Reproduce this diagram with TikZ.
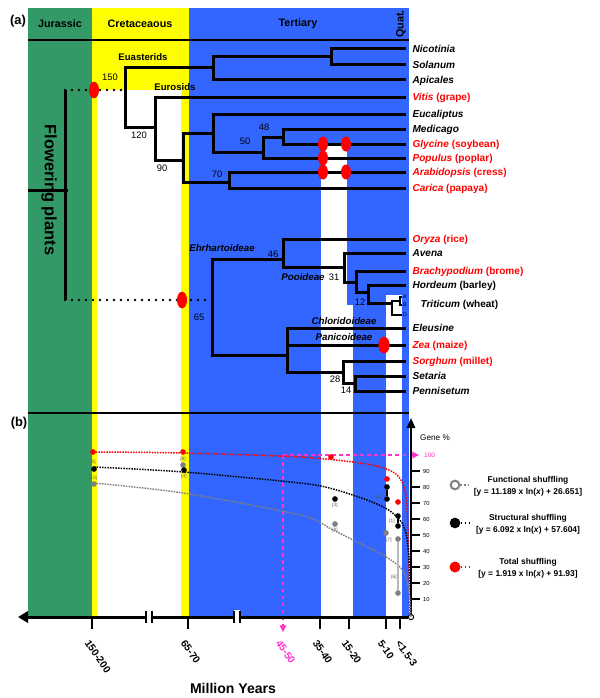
\documentclass[tikz,border=0pt]{standalone}
\usepackage{fontspec}
\setmainfont{Liberation Sans}
\usetikzlibrary{arrows.meta}

\definecolor{jurgreen}{RGB}{51,153,102}
\definecolor{cretyellow}{RGB}{255,255,0}
\definecolor{tertblue}{RGB}{51,102,255}
\definecolor{dupred}{RGB}{255,0,0}
\definecolor{dashpink}{RGB}{255,51,204}

\tikzset{
  branch/.style={line width=0.9mm},
  rootdots/.style={line width=0.85mm,line cap=round,dash pattern=on 0pt off 2.1mm},
  taxon/.style={anchor=west,inner xsep=1.9mm,inner ysep=0pt,text height=0.72em,text depth=0.2em,font=\fontsize{8.6}{10}\selectfont\bfseries},
  redtaxon/.style={taxon,text=dupred},
  subg/.style={anchor=west,inner sep=0.3mm,font=\fontsize{4.5}{5}\selectfont},
  age/.style={inner sep=0pt,font=\fontsize{8}{9}\selectfont},
  clade/.style={inner sep=0pt,font=\fontsize{8.3}{9}\selectfont\bfseries\itshape},
  era/.style={inner sep=0pt,font=\fontsize{9.2}{10}\selectfont\bfseries},
  panel/.style={inner sep=0pt,font=\fontsize{11}{12}\selectfont\bfseries},
  fitcurve/.style={densely dotted,line width=0.45mm},
  datapt/.style={circle,inner sep=0pt,minimum size=1.7mm},
  tot/.style={datapt,fill=dupred},
  struc/.style={datapt,fill=black},
  func/.style={datapt,fill=gray},
  src/.style={inner sep=0pt,font=\fontsize{4}{4}\selectfont,text=gray!70!black},
  yrlabel/.style={anchor=west,rotate=-55,inner sep=0pt,font=\fontsize{8.7}{9}\selectfont\bfseries},
  legtext/.style={align=center,font=\fontsize{7.2}{10}\selectfont\bfseries},
}

\begin{document}
\begin{tikzpicture}[x=0.3mm,y=-0.3mm]
  \useasboundingbox (0,0) rectangle (600,698);
  %baggrund: perioder
  \fill[jurgreen] (28,8) rectangle (92,617);
  \fill[cretyellow] (92,8) rectangle (189,90);
  \fill[cretyellow] (92,90) rectangle (97,617);
  \fill[cretyellow] (181,90) rectangle (189,617);
  \fill[tertblue] (189,8) rectangle (409,617);
  \fill[white] (321,145) rectangle (347,617);
  \fill[white] (347,305) rectangle (353,617);
  \fill[white] (386,295) rectangle (402,617);
  \draw[line width=0.6mm] (28,40) -- (409,40);
  \draw[line width=0.6mm] (28,413) -- (409,413);
  \node[era] (jur) at (60,24) {Jurassic};
  \node[era] (cret) at (140,24) {Cretaceaous};
  \node[era] (tert) at (298,24) {Tertiary};
  \node[era,rotate=90] (quat) at (401,24) {Quat.};
  \node[panel] (pa) at (18,21) {(a)};
  \node[panel] (pb) at (19,423) {(b)};

  %rod
  \coordinate (rtop) at (65,90);
  \coordinate (rbot) at (65,300);
  \coordinate (rtick) at (28,190);
  \draw[branch] (rtop) -- (rbot);
  \draw[branch] (rtick) -- ++(40,0);
  \node[font=\fontsize{14}{14}\selectfont\bfseries,rotate=-90] (fp) at (49,190) {Flowering plants};

  %tokimbladede
  \coordinate (n150) at (125,90);
  \coordinate (euast) at (213,68);
  \coordinate (sol) at (331,57);
  \coordinate (n120) at (155,127);
  \coordinate (n90) at (183,160);
  \coordinate (ros) at (213,133);
  \coordinate (n50) at (263,152);
  \coordinate (n48) at (283,137);
  \coordinate (n70) at (229,182);
  \node[taxon] (nicotinia) at (406,49) {\itshape Nicotinia};
  \node[taxon] (solanum) at (406,65) {\itshape Solanum};
  \node[taxon] (apicales) at (406,80) {\itshape Apicales};
  \node[redtaxon] (vitis) at (406,97) {\textit{Vitis} (grape)};
  \node[taxon] (eucaliptus) at (406,114) {\itshape Eucaliptus};
  \node[taxon] (medicago) at (406,129) {\itshape Medicago};
  \node[redtaxon] (glycine) at (406,144) {\textit{Glycine} (soybean)};
  \node[redtaxon] (populus) at (406,158) {\textit{Populus} (poplar)};
  \node[redtaxon] (arabidopsis) at (406,172) {\textit{Arabidopsis} (cress)};
  \node[redtaxon] (carica) at (406,188) {\textit{Carica} (papaya)};
  \foreach \a/\b in {n150/euast,n150/n120,euast/sol,euast/apicales.west,sol/nicotinia.west,
      sol/solanum.west,n120/vitis.west,n120/n90,n90/ros,n90/n70,ros/eucaliptus.west,ros/n50,
      n50/n48,n50/populus.west,n48/medicago.west,n48/glycine.west,n70/arabidopsis.west,n70/carica.west}
    \draw[branch] (\a) |- (\b);
  \node[clade,font=\fontsize{8.2}{9}\selectfont\bfseries] (euasterids) at (143,57) {Euasterids};
  \node[clade,font=\fontsize{8.2}{9}\selectfont\bfseries] (eurosids) at (175,87) {Eurosids};
  \node[age] (a150) at (110,77) {150};
  \node[age] (a120) at (139,135) {120};
  \node[age] (a90) at (162,168) {90};
  \node[age] (a50) at (245,141) {50};
  \node[age] (a48) at (264,127) {48};
  \node[age] (a70) at (217,174) {70};

  %enkimbladede
  \coordinate (mono) at (212,300);
  \coordinate (n46) at (283,259);
  \coordinate (n31) at (344,267);
  \coordinate (nbra) at (356,282);
  \coordinate (n12) at (368,292);
  \coordinate (ntri) at (392,303);
  \coordinate (nab) at (400,301);
  \coordinate (pan) at (287,355);
  \coordinate (n28) at (343,372);
  \coordinate (n14) at (355,383);
  \node[redtaxon] (oryza) at (406,239) {\textit{Oryza} (rice)};
  \node[taxon] (avena) at (406,253) {\itshape Avena};
  \node[redtaxon] (brachypodium) at (406,271) {\textit{Brachypodium} (brome)};
  \node[taxon] (hordeum) at (406,285) {\textit{Hordeum} (barley)};
  \node[subg] (tA) at (402,297) {A};
  \node[subg] (tB) at (402,305) {B};
  \node[subg] (tD) at (402,315) {D};
  \node[taxon] (triticum) at (414,304) {\textit{Triticum} (wheat)};
  \node[taxon] (eleusine) at (406,328) {\itshape Eleusine};
  \node[redtaxon] (zea) at (406,345) {\textit{Zea} (maize)};
  \node[redtaxon] (sorghum) at (406,361) {\textit{Sorghum} (millet)};
  \node[taxon] (setaria) at (406,376) {\itshape Setaria};
  \node[taxon] (pennisetum) at (406,391) {\itshape Pennisetum};
  \foreach \a/\b in {mono/n46,mono/pan,n46/oryza.west,n46/n31,n31/avena.west,n31/nbra,
      nbra/brachypodium.west,nbra/n12,n12/hordeum.west,n12/ntri,pan/eleusine.west,pan/zea.west,
      pan/n28,n28/sorghum.west,n28/n14,n14/setaria.west,n14/pennisetum.west}
    \draw[branch] (\a) |- (\b);
  \draw[line width=0.6mm] (ntri) |- (nab) (ntri) |- (tD.west) (nab) |- (tA.west) (nab) |- (tB.west);
  \node[clade] (ehr) at (222,248) {Ehrhartoideae};
  \node[clade] (poo) at (303,277) {Pooideae};
  \node[clade] (chl) at (344,321) {Chloridoideae};
  \node[clade] (pani) at (344,337) {Panicoideae};
  \node[age] (a65) at (199,317) {65};
  \node[age] (a46) at (273,254) {46};
  \node[age] (a31) at (334,277) {31};
  \node[age] (a12) at (360,302) {12};
  \node[age] (a28) at (335,379) {28};
  \node[age] (a14) at (346,390) {14};

  %prikkede forbindelser og duplikationer
  \draw[rootdots] (rtop) -- (n150);
  \draw[rootdots] (rbot) -- (mono);
  \fill[dupred] (94,90) ellipse [x radius=1.5mm,y radius=2.5mm];
  \fill[dupred] (182,300) ellipse [x radius=1.5mm,y radius=2.5mm];
  \foreach \x/\y in {323/144,346/144,323/158,323/172,346/172}
    \fill[dupred] (\x,\y) ellipse [x radius=1.5mm,y radius=2.25mm];
  \fill[dupred] (384,345) ellipse [x radius=1.7mm,y radius=2.5mm];

  %akser
  \node[circle,draw,line width=0.3mm,inner sep=0pt,minimum size=1.6mm] (orig) at (411,617) {};
  \coordinate (gtop) at (411,418);
  \coordinate (tleft) at (18,617);
  \draw[dashpink,dashed,line width=0.4mm,-{Triangle[length=2mm,width=2mm]}] (283,455) -- (283,632);
  \draw[dashpink,dashed,line width=0.4mm,-{Triangle[length=2mm,width=2mm]}] (283,455) -- (419,455);
  \draw[line width=0.6mm,-{Triangle[length=3mm,width=2.5mm]}] (orig) -- (gtop);
  \draw[line width=0.9mm,-{Triangle[length=3mm,width=3.4mm]}] (orig) -- (tleft);
  \foreach \k in {1,...,9}{
    \draw[line width=0.5mm] (411,615-16*\k) -- (420,615-16*\k);
    \node[anchor=west,inner sep=0pt,font=\fontsize{5}{5}\selectfont] (g\k) at (423,615-16*\k) {\k0};
  }
  \node[anchor=west,inner sep=0pt,font=\fontsize{5.5}{5}\selectfont,text=dashpink] (g10) at (424,455) {100};
  \node[anchor=west,inner sep=0pt,font=\fontsize{7}{8}\selectfont] (gene) at (420,438) {Gene \%};
  \foreach \b in {146,234}{
    \fill[white] (\b,610) rectangle (\b+6,624);
    \draw[line width=0.5mm] (\b,611) -- (\b,623) (\b+6,611) -- (\b+6,623);
  }
  \foreach \t/\lx/\lab in {92/87/150-200,188/183/65-70,320/315/35-40,349/344/15-20,386/380/5-10,400/398/{<1.5-3}}{
    \draw[line width=0.8mm] (\t,617) -- (\t,629);
    \node[yrlabel] (y\t) at (\lx,641) {\lab};
  }
  \node[yrlabel,text=dashpink] (y283) at (278,641) {45-50};
  \node[font=\fontsize{12}{14}\selectfont\bfseries] (myears) at (233,688) {Million Years};

  %kurver
  \draw[fitcurve,dupred] plot[smooth,tension=0.5] coordinates {(93,452) (183,453) (300,457) (367,464) (393,472) (402,482) (406,497) (408,530) (410,617)};
  \draw[fitcurve,black] plot[smooth,tension=0.5] coordinates {(94,467) (184,472) (300,483) (333,489) (367,500) (387,509) (397,517) (402,523) (406,533) (408,547) (410,575) (411,617)};
  \draw[fitcurve,gray] plot[smooth,tension=0.5] coordinates {(94,483) (183,493) (300,515) (333,530) (367,547) (383,555) (400,567) (407,580) (410,600) (411,617)};

  %datapunkter
  \node[tot] (t5) at (93,452) {};
  \node[src] (r5) at (93,462) {[5]};
  \node[struc] (s5) at (94,469) {};
  \node[src] (r10) at (93,478) {[10]};
  \node[func] (f10) at (94,484) {};
  \node[tot] (t9) at (183,452) {};
  \node[src] (r9) at (183,459) {[9]};
  \node[func] (f9) at (183,465) {};
  \node[struc] (s4) at (184,470) {};
  \node[src] (r4) at (184,476) {[4]};
  \node[tot] (t3) at (331,457) {};
  \node[struc] (s3) at (335,499) {};
  \node[src] (r3) at (335,505) {[3]};
  \node[func] (f8) at (335,524) {};
  \node[src] (r8) at (335,530) {[8]};
  \node[tot] (t2) at (387,479) {};
  \node[struc] (s2a) at (387,487) {};
  \node[struc] (s2b) at (387,499) {};
  \node[src] (r2) at (379,497) {[2]};
  \node[func] (f7) at (386,533) {};
  \node[src] (r7) at (389,540) {[7]};
  \node[tot] (t1) at (398,502) {};
  \node[struc] (s1a) at (398,516) {};
  \node[struc] (s1b) at (398,526) {};
  \node[src] (r1) at (392,521) {[1]};
  \node[func] (f6a) at (398,539) {};
  \node[func] (f6b) at (398,593) {};
  \node[src] (r6) at (394,577) {[6]};
  \draw[line width=0.35mm] (s2a) -- (s2b);
  \draw[line width=0.35mm] (s1a) -- (s1b);
  \draw[gray!55,line width=0.6mm] (f6a) -- (f6b);

  %forklaring
  \node[circle,draw=gray,line width=0.6mm,inner sep=0pt,minimum size=2.6mm] (lfunc) at (455,485) {};
  \node[circle,fill=black,inner sep=0pt,minimum size=3.2mm] (lstruc) at (455,523) {};
  \node[circle,fill=dupred,inner sep=0pt,minimum size=3.3mm] (ltot) at (455,567) {};
  \draw[gray,dotted,line width=0.5mm] (lfunc.east) -- ++(9,0);
  \draw[black,dotted,line width=0.5mm] (lstruc.east) -- ++(9,0);
  \draw[dupred,dotted,line width=0.5mm] (ltot.east) -- ++(9,0);
  \node[legtext] (tfunc) at (528,486) {Functional shuffling\\{[}y = 11.189 x ln(\textit{x}) + 26.651{]}};
  \node[legtext] (tstruc) at (528,524) {Structural shuffling\\{[}y = 6.092 x ln(\textit{x}) + 57.604{]}};
  \node[legtext] (ttot) at (528,568) {Total shuffling\\{[}y = 1.919 x ln(\textit{x}) + 91.93{]}};
\end{tikzpicture}
\end{document}
